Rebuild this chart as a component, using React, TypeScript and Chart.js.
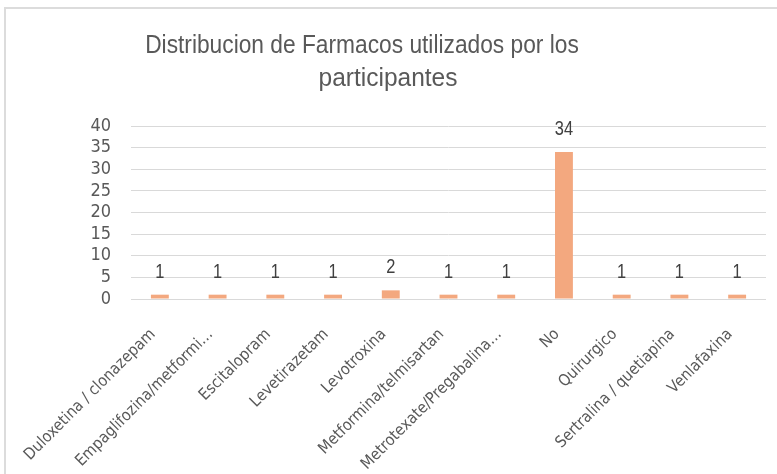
import React, { useEffect, useRef } from "react";
import { Chart, registerables } from "chart.js";

Chart.register(...registerables);

const categories = [
  "Duloxetina / clonazepam",
  "Empaglifozina/metformi…",
  "Escitalopram",
  "Levetirazetam",
  "Levotroxina",
  "Metformina/telmisartan",
  "Metrotexate/Pregabalina…",
  "No",
  "Quirurgico",
  "Sertralina / quetiapina",
  "Venlafaxina",
];
const counts = [1, 1, 1, 1, 2, 1, 1, 34, 1, 1, 1];
const titleLines = ["Distribucion de Farmacos utilizados por los", "participantes"];
const yMax = 40;
const yStep = 5;

const TICK_FONT = "'Liberation Sans Narrow', 'Arial Narrow', 'DejaVu Sans Condensed', sans-serif";
const NARROW_BASE = "'Liberation Sans', Arial, sans-serif";
const BAR_COLOR = "#F3A87F";
const TEXT = "#595959";

function narrowText(ctx: any, text: string, x: number, y: number, size: number, color: string, sx: number) {
  ctx.save();
  ctx.fillStyle = color;
  ctx.font = `${size}px ${NARROW_BASE}`;
  ctx.textAlign = "center";
  ctx.textBaseline = "alphabetic";
  ctx.translate(x, y);
  ctx.scale(sx, 1);
  ctx.fillText(text, 0, 0);
  ctx.restore();
}

const titlePlugin = {
  id: "customTitle",
  afterDraw(chart: any) {
    const ctx = chart.ctx;
    narrowText(ctx, titleLines[0], 362, 53, 25, TEXT, 0.91);
    narrowText(ctx, titleLines[1], 388, 86, 25, TEXT, 0.98);
  },
};

const labelPlugin = {
  id: "barLabels",
  afterDatasetsDraw(chart: any) {
    const ctx = chart.ctx;
    const meta = chart.getDatasetMeta(0);
    const data = chart.data.datasets[0].data;
    meta.data.forEach((bar: any, i: number) => {
      narrowText(ctx, String(data[i]), bar.x, bar.y - 17, 20, "#404040", 0.82);
    });
  },
};

export default function App() {
  const ref = useRef<HTMLCanvasElement | null>(null);
  useEffect(() => {
    if (!ref.current) return;
    const chart = new Chart(ref.current, {
      type: "bar",
      data: {
        labels: categories,
        datasets: [
          {
            data: counts,
            backgroundColor: BAR_COLOR,
            borderWidth: 0,
            categoryPercentage: 1,
            barPercentage: 0.31,
          },
        ],
      },
      options: {
        responsive: false,
        animation: false,
        layout: { padding: { left: 0, right: 11, top: 126, bottom: 0 } },
        plugins: {
          legend: { display: false },
          title: { display: false },
          tooltip: { enabled: false },
        },
        scales: {
          x: {
            afterFit: (s: any) => {
              s.height = 175;
              s.paddingLeft = 0;
              s.paddingRight = 0;
            },
            grid: { display: false, drawTicks: false },
            border: { display: false },
            ticks: {
              autoSkip: false,
              maxRotation: 45,
              minRotation: 45,
              padding: 26,
              labelOffset: -7,
              color: TEXT,
              font: { family: TICK_FONT, size: 16 },
            },
          },
          y: {
            min: 0,
            max: yMax,
            afterFit: (s: any) => {
              s.width = 131;
              s.paddingTop = 0;
              s.paddingBottom = 0;
            },
            grid: { color: "#D9D9D9", lineWidth: 1, drawTicks: false },
            border: { display: false },
            ticks: {
              stepSize: yStep,
              autoSkip: false,
              padding: 20,
              color: TEXT,
              font: { family: TICK_FONT, size: 18 },
            },
          },
        },
      },
      plugins: [titlePlugin, labelPlugin],
    });
    return () => chart.destroy();
  }, []);

  return (
    <div
      style={{
        position: "absolute",
        left: 0,
        top: 0,
        width: 777,
        height: 474,
        overflow: "hidden",
        background: "#fff",
      }}
    >
      <div
        style={{
          position: "absolute",
          left: 4,
          top: 7,
          width: 900,
          height: 600,
          border: "2px solid #DCDCDC",
        }}
      />
      <canvas
        ref={ref}
        width={777}
        height={474}
        style={{ position: "absolute", left: 0, top: 0, display: "block" }}
      />
    </div>
  );
}
